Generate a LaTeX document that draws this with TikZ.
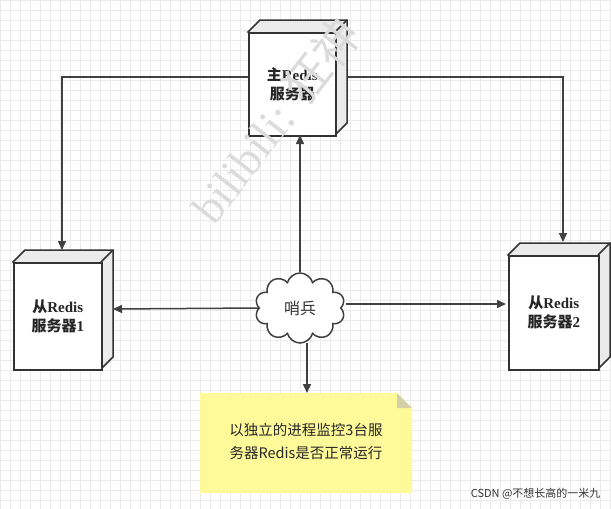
\documentclass[tikz,border=0pt]{standalone}
\usepackage{fontspec}
\setmainfont{Liberation Serif}
\newfontfamily\cjk{Noto Sans CJK SC}
\usetikzlibrary{shapes.symbols,arrows.meta}
\begin{document}
\begin{tikzpicture}[x=1pt,y=-1pt,
  face/.style={draw=black!80,line width=1.5pt,fill=white},
  side/.style={draw=black!80,line width=1.5pt,fill=black!8},
  conn/.style={draw=black!75,line width=1.5pt,-{Triangle[length=9pt,width=8pt]}},
  lbl/.style={font=\bfseries\fontsize{15}{19}\selectfont,align=center,text=black!85}]
\useasboundingbox (0,0) rectangle (611,509);
\fill[white] (0,0) rectangle (611,509);
\draw[black!8,line width=0.5pt,step=10pt] (0,0) grid (611,509);
\newcommand\mycube[5]{%
  \fill[side] (#2,#3) -- (#2+12,#3-12) -- (#4+12,#3-12) -- (#4+12,#5-12) -- (#4,#5) -- cycle;
  \draw[black!80,line width=1.5pt] (#4,#3) -- (#4+12,#3-12);
  \node[face,minimum width=#4-#2,minimum height=#5-#3,anchor=north west,inner sep=0] (#1) at (#2,#3) {};
}
\mycube{m}{248}{32}{335}{135}
\mycube{l}{13}{262}{101}{369}
\mycube{r}{508}{255}{598}{369}
\node[lbl] at (m.center) {{\cjk 主}Redis\\{\cjk 服务器}};
\node[lbl] at (l.center) {{\cjk 从}Redis\\{\cjk 服务器}1};
\node[lbl] at (r.center) {{\cjk 从}Redis\\{\cjk 服务器}2};
\coordinate (cl) at (255,309);
\coordinate (cr) at (345,304);
\node[cloud,cloud puffs=10,aspect=1.3,draw=black!75,line width=1.5pt,fill=white,minimum width=90pt,minimum height=70pt,font=\cjk\fontsize{16}{18}\selectfont,text=black!80] (c) at (300,308) {哨兵};
\fill[yellow!40] (200,393) -- (397,393) -- (412,408) -- (412,493) -- (200,493) -- cycle;
\fill[yellow!50!black!40] (397,393) -- (412,408) -- (397,408) -- cycle;
\node[font=\cjk\fontsize{14.5}{23}\selectfont,align=center,text=black!85] (n) at (306,441) {以独立的进程监控3台服\\务器Redis是否正常运行};
\coordinate (ntop) at (307,393);
\draw[conn] (248,77) -| (62,250);
\draw[conn] (347,77) -| (563,242);
\draw[conn] (300,272) -- (300,135);
\draw[conn] (c.west) -- (113,309);
\draw[conn] (346,304) -- (506,304);
\draw[conn] (307,343) -- (ntop);
\node[rotate=52,text=black!14,font=\fontsize{46}{46}\selectfont] (wm) at (275,120) {bilibili: {\cjk 狂神}};
\node[font=\cjk\fontsize{11}{12}\selectfont,text=black!80,anchor=south east] (cs) at (604,503) {CSDN @不想长高的一米九};
\end{tikzpicture}
\end{document}
